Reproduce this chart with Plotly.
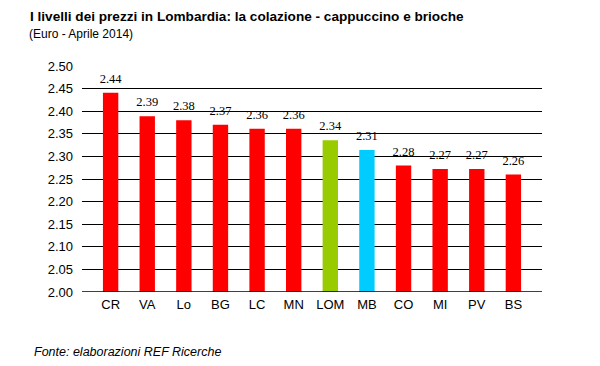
import plotly.graph_objects as go

categories = ["CR", "VA", "Lo", "BG", "LC", "MN", "LOM", "MB", "CO", "MI", "PV", "BS"]
values = [2.441, 2.389, 2.380, 2.370, 2.361, 2.361, 2.336, 2.314, 2.280, 2.272, 2.272, 2.260]
colors = ["#FF0000"] * 6 + ["#99CC00", "#00CCFF"] + ["#FF0000"] * 4
y_ticks = [2.00, 2.05, 2.10, 2.15, 2.20, 2.25, 2.30, 2.35, 2.40, 2.45, 2.50]

L, R, T, B = 82, 58, 66, 74
W, H = 600, 366

fig = go.Figure()
fig.add_trace(go.Bar(
    x=categories, y=values, marker=dict(color=colors, line=dict(width=0)),
    showlegend=False, hoverinfo="x+y",
))
fig.add_trace(go.Scatter(
    x=categories, y=values, mode="markers+text", text=[f"{v:.2f}" for v in values],
    textposition="top center",
    marker=dict(size=9, opacity=0),
    textfont=dict(family="Liberation Serif", size=12.5, color="#000000"),
    cliponaxis=False, showlegend=False, hoverinfo="skip",
))

fig.update_layout(
    width=W, height=H,
    margin=dict(l=L, r=R, t=T, b=B, autoexpand=False),
    paper_bgcolor="white", plot_bgcolor="white",
    bargap=0.58,
    font=dict(family="Liberation Sans", size=12, color="#000000"),
    xaxis=dict(showgrid=False, showline=False, ticks="", tickfont=dict(size=13),
               automargin=False, ticklabelstandoff=3),
    yaxis=dict(range=[2.0, 2.5], tickvals=y_ticks, tickformat=".2f",
               showgrid=True, gridcolor="#000000", gridwidth=1,
               zeroline=False, showline=False, tickfont=dict(size=13),
               automargin=False, ticklabelstandoff=8),
)

pw = W - L - R
ph = H - T - B
def px(x):
    return (x - L) / pw
def py(y):
    return (H - B - y) / ph

fig.add_annotation(text="<b>I livelli dei prezzi in Lombardia: la colazione - cappuccino e brioche</b>",
                   x=px(28), y=py(16), xref="paper", yref="paper", showarrow=False,
                   xanchor="left", yanchor="middle",
                   font=dict(size=13.6, family="Liberation Sans"))
fig.add_annotation(text="(Euro - Aprile 2014)",
                   x=px(27), y=py(34), xref="paper", yref="paper", showarrow=False,
                   xanchor="left", yanchor="middle",
                   font=dict(size=12, family="Liberation Sans"))
fig.add_annotation(text="<i>Fonte: elaborazioni REF Ricerche</i>",
                   x=px(32), y=py(352), xref="paper", yref="paper", showarrow=False,
                   xanchor="left", yanchor="middle",
                   font=dict(size=12.5, family="Liberation Sans"))

fig.add_shape(type="line", xref="paper", yref="y", x0=0, x1=1, y0=2.0, y1=2.0,
              line=dict(color="#000000", width=1.5))

fig.write_html("out.html", config={"displayModeBar": False},
               post_script="document.body.style.margin='0';")
